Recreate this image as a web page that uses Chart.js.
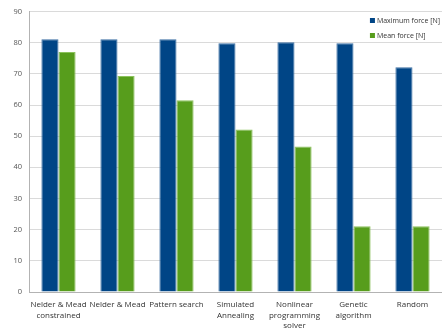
<!DOCTYPE html>
<html>
<head>
<meta charset="utf-8">
<style>
  html, body { margin: 0; padding: 0; background: #fff; }
  #wrap { width: 442px; height: 333px; }
</style>
</head>
<body>
<div id="wrap"><canvas id="forceChart"></canvas></div>
<script src="https://cdn.jsdelivr.net/npm/chart.js"></script>
<script>
// Data
const categories = [
    ['Nelder & Mead', 'constrained'],
    'Nelder & Mead',
    'Pattern search',
    ['Simulated', 'Annealing'],
    ['Nonlinear', 'programming', 'solver'],
    ['Genetic', 'algorithm'],
    'Random'
];
const maxForce = [81.1, 81.1, 81.1, 79.8, 80.1, 79.8, 72.1];
const meanForce = [77.0, 69.3, 61.5, 52.1, 46.7, 21.1, 21.1];
const yTicks = [0, 10, 20, 30, 40, 50, 60, 70, 80, 90];

// Legend drawn inside the plot, top right
const innerLegend = {
    id: 'innerLegend',
    afterDraw(chart) {
        const ctx = chart.ctx;
        const area = chart.chartArea;
        ctx.save();
        ctx.font = '7px "Open Sans", sans-serif';
        ctx.textBaseline = 'middle';
        const widest = Math.max(...chart.data.datasets.map(ds => ctx.measureText(ds.label).width));
        const x = Math.min(area.right - 67, area.right - widest - 9);
        chart.data.datasets.forEach((ds, i) => {
            const y = area.top + 9 + i * 15;
            ctx.fillStyle = ds.backgroundColor;
            ctx.fillRect(x, y - 2.5, 5, 5);
            ctx.fillStyle = '#333';
            ctx.fillText(ds.label, x + 7, y);
        });
        ctx.restore();
    }
};

const ctx = document.getElementById('forceChart').getContext('2d');
new Chart(ctx, {
    type: 'bar',
    data: {
        labels: categories,
        datasets: [
            {
                label: 'Maximum force [N]',
                data: maxForce,
                backgroundColor: '#004586',
                borderColor: '#3b6fa3',
                borderWidth: 1,
                borderSkipped: 'bottom'
            },
            {
                label: 'Mean force [N]',
                data: meanForce,
                backgroundColor: '#579d1c',
                borderColor: '#8cc25c',
                borderWidth: 1,
                borderSkipped: 'bottom'
            }
        ]
    },
    options: {
        responsive: true,
        maintainAspectRatio: false,
        animation: false,
        layout: { padding: { top: 7, right: 0, bottom: 0, left: 0 } },
        categoryPercentage: 0.58,
        barPercentage: 1.0,
        plugins: {
            legend: { display: false },
            tooltip: { enabled: false }
        },
        scales: {
            x: {
                grid: { display: false },
                border: { display: true, color: '#b3b3b3' },
                ticks: {
                    color: '#333',
                    font: { family: '"Open Sans", sans-serif', size: 8, lineHeight: 1.3 },
                    maxRotation: 0,
                    autoSkip: false,
                    padding: 0
                },
                afterFit(scale) { scale.height = 41; }
            },
            y: {
                min: 0,
                max: 90,
                afterBuildTicks(scale) {
                    scale.ticks = yTicks.map(v => ({ value: v }));
                },
                grid: { color: '#dadada', drawTicks: false },
                border: { display: true, color: '#b3b3b3' },
                ticks: {
                    color: '#555',
                    font: { family: '"Open Sans", sans-serif', size: 7.5 },
                    padding: 7
                },
                afterFit(scale) { scale.width = 29; }
            }
        }
    },
    plugins: [innerLegend]
});
</script>
</body>
</html>
